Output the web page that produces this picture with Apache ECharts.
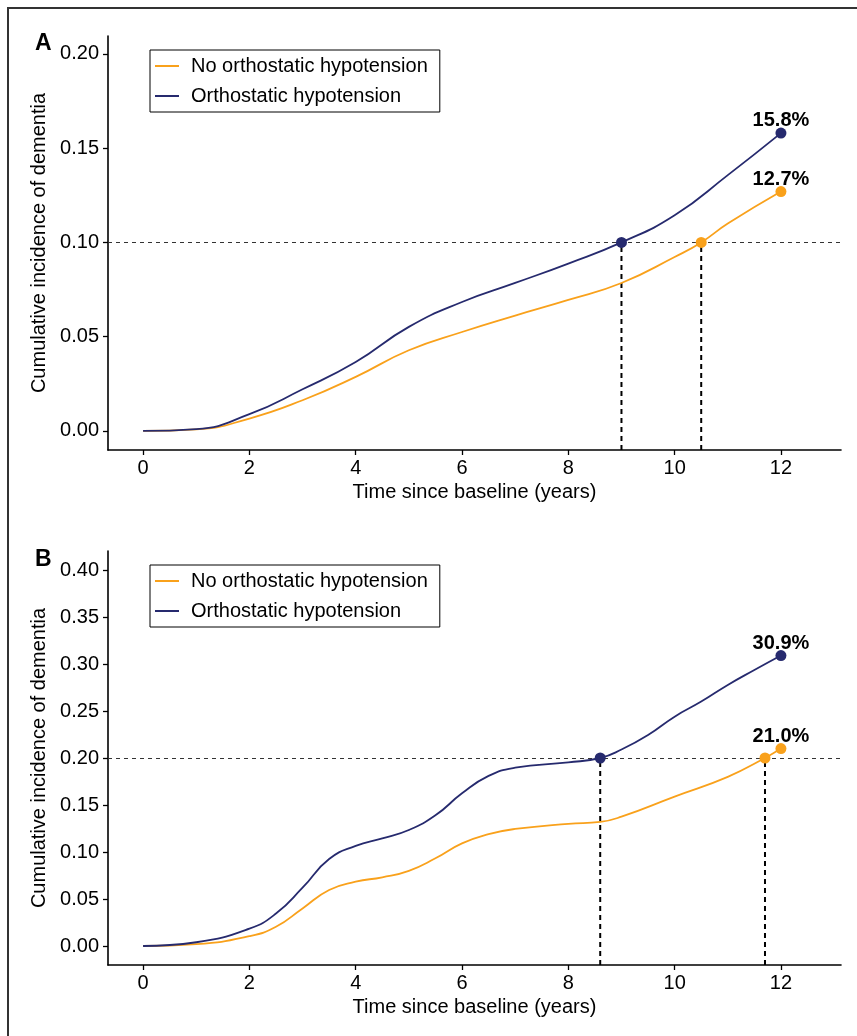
<!DOCTYPE html>
<html>
<head>
<meta charset="utf-8">
<script src="https://cdn.jsdelivr.net/npm/echarts@6/dist/echarts.min.js"></script>
<style>
html,body{margin:0;padding:0;background:#fff;}
#chart{width:857px;height:1036px;}
</style>
</head>
<body>
<div id="chart"></div>
<script>
// ---- Data ----
const seriesNames = ['No orthostatic hypotension', 'Orthostatic hypotension'];
const xTicks = [0, 2, 4, 6, 8, 10, 12];
const yTicksA = [0, 0.05, 0.10, 0.15, 0.20];
const yTicksB = [0, 0.05, 0.10, 0.15, 0.20, 0.25, 0.30, 0.35, 0.40];

// Panel A
const timeA_noOH = [0, 1, 2, 3, 4, 5, 6, 7, 8, 9, 10, 10.5, 11, 12];
const incA_noOH  = [0, 0.0008, 0.0066, 0.0163, 0.0287, 0.0428, 0.0525, 0.0612, 0.0695, 0.0785, 0.0923, 0.100, 0.110, 0.127];
const timeA_OH   = [0, 1, 2, 3, 4, 5, 6, 7, 8, 9, 10, 11, 12];
const incA_OH    = [0, 0.001, 0.0089, 0.0221, 0.0366, 0.0552, 0.0684, 0.0785, 0.0888, 0.100, 0.1144, 0.1357, 0.158];
const refA = 0.10;
const crossA = [10.5, 9];          // [noOH, OH] time at which reference reached
const endA = [0.127, 0.158];       // 12-year cumulative incidence

// Panel B
const timeB_noOH = [0, 1, 2, 2.5, 3, 3.5, 4, 4.5, 5, 5.5, 6, 6.5, 7, 8, 8.6, 9, 10, 11, 11.7, 12];
const incB_noOH  = [0, 0.002, 0.0105, 0.0205, 0.040, 0.0596, 0.0684, 0.0731, 0.080, 0.0933, 0.1092, 0.119, 0.1245, 0.130, 0.132, 0.1376, 0.159, 0.180, 0.200, 0.210];
const timeB_OH   = [0, 1, 2, 2.5, 3, 3.5, 4, 4.5, 5, 5.5, 6, 6.5, 7, 8, 8.6, 9, 9.5, 10, 10.5, 11, 11.5, 12];
const incB_OH    = [0, 0.004, 0.0185, 0.0345, 0.062, 0.0925, 0.1065, 0.1145, 0.1234, 0.139, 0.1624, 0.181, 0.1897, 0.1954, 0.200, 0.209, 0.2245, 0.244, 0.26, 0.2777, 0.2936, 0.309];
const refB = 0.20;
const crossB = [11.7, 8.6];
const endB = [0.210, 0.309];
const endTime = 12;

// ---- Styles ----
const colors = ['#F9A11B', '#262A6E'];
const FONT = '"Liberation Sans", Arial, sans-serif';
const xRange = [-0.66, 13.13];
const yRangeA = [-0.0101, 0.2095];
const yRangeB = [-0.0202, 0.4202];

function pairs(t, v) { return t.map((x, i) => [x, v[i]]); }

function makeXAxis(gi) {
  return {
    type: 'value', gridIndex: gi, min: xRange[0], max: xRange[1],
    name: 'Time since baseline (years)', nameLocation: 'middle', nameGap: 32,
    nameTextStyle: { fontFamily: FONT, fontSize: 20, color: '#000' },
    axisLine: { show: true, onZero: false, lineStyle: { color: '#000', width: 1.6 } },
    axisTick: { show: true, length: 5, customValues: xTicks, lineStyle: { color: '#000', width: 1.3 } },
    axisLabel: { customValues: xTicks, fontFamily: FONT, fontSize: 20, color: '#000', margin: 8,
                 formatter: v => String(v) },
    splitLine: { show: false }
  };
}
function makeYAxis(gi, range, ticks) {
  return {
    type: 'value', gridIndex: gi, min: range[0], max: range[1],
    name: 'Cumulative incidence of dementia', nameLocation: 'middle', nameGap: 51, nameRotate: 90,
    nameTextStyle: { fontFamily: FONT, fontSize: 20, color: '#000' },
    axisLine: { show: true, onZero: false, lineStyle: { color: '#000', width: 1.6 } },
    axisTick: { show: true, length: 5, customValues: ticks, lineStyle: { color: '#000', width: 1.3 } },
    axisLabel: { customValues: ticks, fontFamily: FONT, fontSize: 20, color: '#000', margin: 9,
                 formatter: v => v.toFixed(2) },
    splitLine: { show: false }
  };
}

function panelSeries(gi, tN, vN, tO, vO, ref, cross, ends, yMin) {
  const out = [];
  const curves = [[tN, vN], [tO, vO]];
  curves.forEach((c, k) => {
    out.push({
      name: seriesNames[k], type: 'line', xAxisIndex: gi, yAxisIndex: gi,
      data: pairs(c[0], c[1]), symbol: 'none', smooth: 0.5,
      lineStyle: { color: colors[k], width: 1.8 }, itemStyle: { color: colors[k] },
      z: 3,
      markLine: k === 0 ? {
        silent: true, symbol: 'none', label: { show: false },
        lineStyle: { color: '#333', type: [4, 4], width: 1 },
        data: [{ yAxis: ref }], z: 1
      } : undefined
    });
  });
  // vertical dashed drop lines
  cross.forEach((cx) => {
    out.push({
      type: 'line', xAxisIndex: gi, yAxisIndex: gi, data: [[cx, yMin], [cx, ref]],
      symbol: 'none', lineStyle: { color: '#000', type: [5, 4], width: 2 }, z: 2, silent: true
    });
  });
  // crossing dots
  cross.forEach((cx, k) => {
    out.push({
      type: 'scatter', xAxisIndex: gi, yAxisIndex: gi, data: [[cx, ref]],
      symbolSize: 11, itemStyle: { color: colors[k], opacity: 1 }, z: 5, silent: true
    });
  });
  // end-point dots with labels
  ends.forEach((v, k) => {
    out.push({
      type: 'scatter', xAxisIndex: gi, yAxisIndex: gi, data: [[endTime, v]],
      symbolSize: 11, itemStyle: { color: colors[k], opacity: 1 }, z: 5, silent: true,
      label: { show: true, position: 'top', distance: -3, fontFamily: FONT, fontSize: 20,
               fontWeight: 'bold', color: '#000', opacity: 1,
               formatter: p => (p.value[1] * 100).toFixed(1) + '%' }
    });
  });
  return out;
}

function makeLegend(top) {
  return {
    left: 150, top: top, orient: 'vertical', data: seriesNames,
    borderColor: '#000', borderWidth: 1, padding: [6, 12, 6, 5], itemGap: 10,
    itemWidth: 24, itemHeight: 2, icon: 'rect', selectedMode: false,
    textStyle: { fontFamily: FONT, fontSize: 20, color: '#000', padding: [0, 0, 0, 7], lineHeight: 20 }
  };
}

const chart = echarts.init(document.getElementById('chart'), null, { renderer: 'canvas' });
chart.setOption({
  backgroundColor: '#fff',
  animation: false,
  grid: [
    { left: 108, right: 16, top: 36, height: 414 },
    { left: 108, right: 16, top: 551, height: 414 }
  ],
  xAxis: [makeXAxis(0), makeXAxis(1)],
  yAxis: [makeYAxis(0, yRangeA, yTicksA), makeYAxis(1, yRangeB, yTicksB)],
  legend: [makeLegend(50), makeLegend(565)],
  graphic: [
    { type: 'rect', shape: { x: 8, y: 8, width: 900, height: 1100 }, style: { fill: 'none', stroke: '#333', lineWidth: 2 }, silent: true },
    { type: 'text', left: 35, top: 32, style: { text: 'A', font: 'bold 23px ' + FONT, fill: '#000' } },
    { type: 'text', left: 35, top: 548, style: { text: 'B', font: 'bold 23px ' + FONT, fill: '#000' } }
  ],
  series: [
    ...panelSeries(0, timeA_noOH, incA_noOH, timeA_OH, incA_OH, refA, crossA, endA, yRangeA[0]),
    ...panelSeries(1, timeB_noOH, incB_noOH, timeB_OH, incB_OH, refB, crossB, endB, yRangeB[0])
  ]
});
</script>
</body>
</html>
